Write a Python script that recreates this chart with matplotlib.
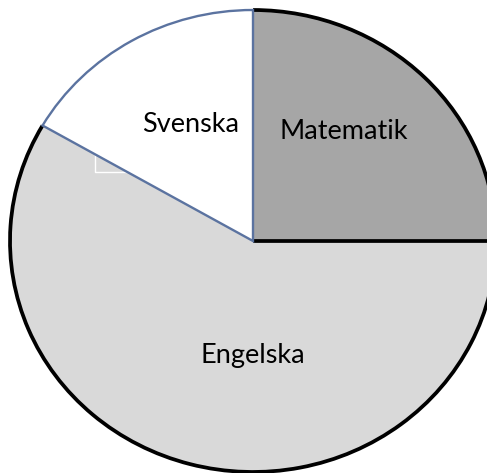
import numpy as np
import matplotlib.pyplot as plt
from matplotlib.patches import Arc, Wedge

# subject shares (number of lessons)
subjects = ["Matematik", "Engelska", "Svenska"]
lessons = [3, 7, 2]
colors = ["#A6A6A6", "#D9D9D9", "#FFFFFF"]

plt.rcParams['font.family'] = ['Lato', 'DejaVu Sans']

fig = plt.figure(figsize=(4.87, 4.73), dpi=100)
ax = fig.add_axes([0, 0, 1, 1])

wedges, _ = ax.pie(lessons, colors=colors, startangle=90, counterclock=False,
                   radius=1.0, wedgeprops=dict(edgecolor='none', linewidth=0))

black_lw = 2.7
blue = "#5B73A0"

# outer rim of Matematik and Engelska in black
for w in wedges[:2]:
    ax.add_patch(Arc((0, 0), 2, 2, theta1=w.theta1, theta2=w.theta2,
                     color='black', lw=black_lw, zorder=3))
# border between Matematik and Engelska
a = np.deg2rad(wedges[0].theta1)
ax.plot([0, np.cos(a)], [0, np.sin(a)], color='black', lw=black_lw,
        solid_capstyle='butt', zorder=3)

# Svenska outlined in blue-grey on top
sv = wedges[2]
ax.add_patch(Wedge((0, 0), 1, sv.theta1, sv.theta2, facecolor='none',
                   edgecolor=blue, lw=1.7, zorder=4))

# small white frame left in the Engelska area
ax.plot([-0.650, -0.650, -0.506], [0.385, 0.299, 0.299], color='white',
        lw=1.0, zorder=2)

label_pos = {"Matematik": (0.375, 0.475), "Engelska": (0.0, -0.496),
             "Svenska": (-0.255, 0.506)}
for name in subjects:
    x, y = label_pos[name]
    ax.text(x, y, name, ha='center', va='center', fontsize=19.5, color='black',
            zorder=5)

ax.set_aspect('auto')
ax.set_xlim(-253 / 243, 234 / 243)
ax.set_ylim(-232 / 231, 241 / 231)
ax.axis('off')

fig.savefig("out.png", dpi=100)
